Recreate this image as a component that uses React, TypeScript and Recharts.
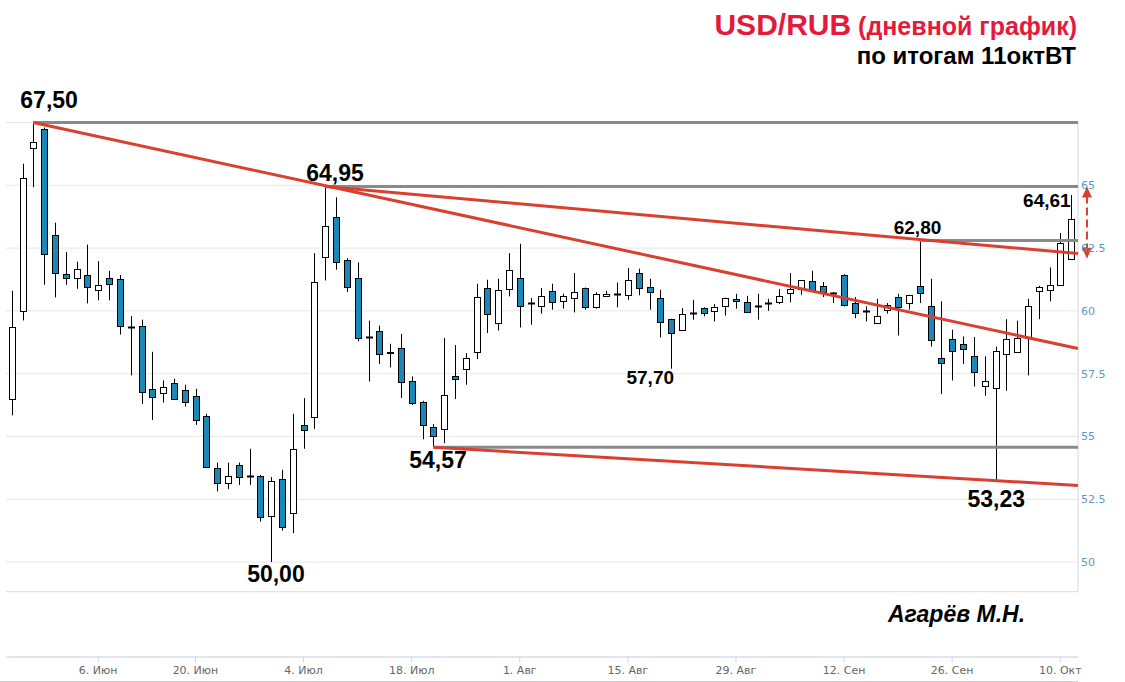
import React from 'react';
import { ComposedChart, Bar, XAxis, YAxis, CartesianGrid, ReferenceLine, ReferenceDot } from 'recharts';

// Trading days (MOEX, 2022), 25 May – 11 Oct
const dates = [
  '25.05','26.05','27.05','30.05','31.05',
  '01.06','02.06','03.06','06.06','07.06','08.06','09.06','10.06','14.06','15.06','16.06','17.06',
  '20.06','21.06','22.06','23.06','24.06','27.06','28.06','29.06','30.06',
  '01.07','04.07','05.07','06.07','07.07','08.07','11.07','12.07','13.07','14.07','15.07',
  '18.07','19.07','20.07','21.07','22.07','25.07','26.07','27.07','28.07','29.07',
  '01.08','02.08','03.08','04.08','05.08','08.08','09.08','10.08','11.08','12.08',
  '15.08','16.08','17.08','18.08','19.08','22.08','23.08','24.08','25.08','26.08',
  '29.08','30.08','31.08','01.09','02.09','05.09','06.09','07.09','08.09','09.09',
  '12.09','13.09','14.09','15.09','16.09','19.09','20.09','21.09','22.09','23.09',
  '26.09','27.09','28.09','29.09','30.09','03.10','04.10','05.10','06.10','07.10',
  '10.10','11.10',
];

const open = [
  56.49, 60.00, 66.49, 67.24, 63.02, 61.48, 61.31, 61.43, 60.82, 61.31,
  61.27, 59.35, 59.39, 56.88, 56.72, 57.12, 56.86, 56.62, 55.82, 53.74,
  53.14, 53.86, 53.41, 53.41, 51.85, 53.30, 51.97, 55.45, 55.76, 62.14,
  63.72, 62.04, 61.31, 58.95, 59.21, 58.38, 58.52, 57.20, 56.37, 55.37,
  55.29, 57.40, 57.68, 58.36, 60.91, 59.51, 60.87, 61.31, 60.32, 60.18,
  60.78, 60.38, 60.51, 60.91, 60.14, 60.58, 60.67, 60.62, 61.51, 60.95,
  60.51, 59.67, 59.25, 59.92, 60.11, 59.98, 60.18, 60.48, 60.35, 60.21,
  60.32, 60.34, 60.71, 60.87, 61.17, 61.01, 60.72, 61.44, 60.31, 59.99,
  59.51, 60.05, 60.55, 60.31, 61.01, 60.20, 58.12, 58.88, 58.68, 58.19,
  56.99, 56.92, 58.28, 58.36, 58.94, 60.78, 60.84, 61.04, 62.06,
];
const high = [
  60.80, 65.86, 67.50, 67.30, 63.51, 62.34, 61.96, 62.64, 61.98, 61.59,
  61.43, 59.79, 59.65, 58.37, 57.23, 57.30, 57.06, 56.90, 55.90, 53.96,
  53.96, 53.96, 54.51, 53.47, 53.38, 53.67, 55.90, 56.53, 62.30, 64.95,
  64.52, 62.10, 61.93, 59.61, 59.41, 58.69, 59.08, 57.39, 56.42, 55.50,
  58.92, 58.64, 58.32, 61.08, 61.24, 61.28, 62.30, 62.67, 60.51, 60.91,
  61.08, 60.68, 61.51, 60.93, 60.74, 60.80, 61.13, 61.71, 61.68, 61.28,
  60.84, 59.69, 60.11, 60.44, 60.14, 60.27, 60.53, 60.68, 60.60, 60.68,
  60.48, 60.87, 61.51, 61.23, 61.60, 61.15, 60.74, 61.46, 60.55, 60.18,
  60.48, 60.31, 60.68, 60.64, 62.80, 61.28, 60.38, 59.25, 58.98, 58.96,
  58.19, 58.58, 59.67, 59.61, 60.48, 61.00, 61.73, 63.10, 64.61,
];
const low = [
  55.84, 59.62, 64.92, 61.04, 60.54, 61.04, 60.88, 60.30, 60.42, 60.42,
  59.06, 57.43, 56.29, 55.66, 56.35, 56.45, 56.19, 55.46, 53.75, 52.81,
  52.90, 53.07, 53.07, 51.61, 50.00, 51.25, 51.15, 54.51, 55.30, 61.21,
  61.64, 60.75, 58.78, 57.19, 57.89, 57.75, 56.53, 56.25, 54.89, 54.57,
  54.73, 56.49, 57.06, 58.08, 59.12, 59.22, 60.58, 59.34, 59.45, 59.89,
  60.05, 60.09, 59.94, 60.05, 60.09, 60.56, 60.14, 60.44, 60.62, 60.05,
  58.94, 57.70, 59.22, 59.65, 59.78, 59.58, 59.81, 60.09, 59.92, 59.65,
  60.00, 60.27, 60.34, 60.64, 60.78, 60.55, 60.31, 60.18, 59.71, 59.58,
  59.50, 59.89, 59.02, 60.05, 60.31, 58.58, 56.69, 57.23, 57.89, 56.99,
  56.62, 53.23, 56.82, 58.34, 57.43, 59.67, 60.38, 61.02, 62.04,
];
const close = [
  59.35, 65.29, 66.73, 62.26, 61.51, 61.31, 61.67, 60.95, 61.03, 61.07,
  59.38, 59.33, 56.79, 56.59, 56.98, 56.49, 56.39, 55.64, 53.78, 53.14,
  53.44, 53.38, 53.40, 51.79, 53.21, 51.41, 54.49, 55.24, 61.15, 63.39,
  61.94, 60.95, 58.92, 58.93, 58.28, 58.31, 57.16, 56.33, 55.46, 55.00,
  56.65, 57.30, 58.12, 60.55, 59.89, 60.83, 61.63, 60.18, 60.30, 60.58,
  60.35, 60.58, 60.75, 60.14, 60.67, 60.67, 60.65, 61.24, 60.91, 60.75,
  59.55, 59.12, 59.87, 59.90, 59.91, 60.15, 60.51, 60.39, 59.94, 60.19,
  60.30, 60.58, 60.87, 61.21, 60.84, 60.75, 60.70, 60.22, 59.91, 59.97,
  59.81, 60.24, 60.15, 60.62, 60.71, 58.85, 57.92, 58.41, 58.48, 57.56,
  57.19, 58.42, 58.88, 58.94, 60.20, 60.94, 61.04, 62.70, 63.66,
];

const tickDates = ['06.06','20.06','04.07','18.07','01.08','15.08','29.08','12.09','26.09','10.10'];
const tickLabels = ['6. Июн','20. Июн','4. Июл','18. Июл','1. Авг','15. Авг','29. Авг','12. Сен','26. Сен','10. Окт'];
const yTicks = [50, 52.5, 55, 57.5, 60, 62.5, 65, 67.5];

// Levels and trend lines
const grayLevels = [
  { from: '27.05', value: 67.5 },
  { from: '06.07', value: 64.95 },
  { from: '21.09', value: 62.8 },
  { from: '20.07', value: 54.57 },
];
const redLines = [
  { from: '27.05', v1: 67.5, v2: 58.5 },
  { from: '06.07', v1: 64.95, v2: 62.28 },
  { from: '20.07', v1: 54.57, v2: 53.05 },
];
const annotations = [
  { date: '27.05', value: 67.5, text: '67,50', size: 23, dx: -13, dy: -15 },
  { date: '06.07', value: 64.95, text: '64,95', size: 23, dx: -19, dy: -6 },
  { date: '29.06', value: 50.0, text: '50,00', size: 23, dx: -24, dy: 20 },
  { date: '20.07', value: 54.57, text: '54,57', size: 23, dx: -24, dy: 21 },
  { date: '17.08', value: 57.7, text: '57,70', size: 19, dx: -23, dy: 15 },
  { date: '21.09', value: 62.8, text: '62,80', size: 19, dx: -26, dy: -7 },
  { date: '30.09', value: 53.23, text: '53,23', size: 23, dx: -28, dy: 26 },
  { date: '11.10', value: 64.61, text: '64,61', size: 19, dx: -48, dy: 12 },
];

const X_MIN = -0.527;
const X_MAX = 98.64;
const Y_MIN = 46.22;
const Y_MAX = 67.5;
const PANE_BOTTOM = 48.82;

const BLUE = '#1a87b8';
const RED = '#d9402f';
const GRAY = '#8a8a8a';
const FONT = '"Liberation Sans", Arial, sans-serif';

const idx = (d: string) => dates.indexOf(d);

const rows = dates.map((d, i) => ({
  i,
  date: d,
  open: open[i],
  high: high[i],
  low: low[i],
  close: close[i],
  range: [low[i], high[i]],
}));

const Candle = (props: any) => {
  const { x, y, width, height, payload } = props;
  if (payload == null || height == null) return null;
  const { open: o, close: c, high: h, low: l } = payload;
  const k = h - l === 0 ? 0 : height / (h - l);
  const py = (v: number) => y + (h - v) * k;
  const cx = Math.round(x + width / 2) + 0.5;
  const top = py(Math.max(o, c));
  const bot = py(Math.min(o, c));
  const up = c >= o;
  const bodyH = bot - top;
  return (
    <g>
      <line x1={cx} x2={cx} y1={y} y2={y + height} stroke="#000" strokeWidth={1} />
      {bodyH < 1.5 ? (
        <line x1={cx - 3.5} x2={cx + 3.5} y1={Math.round(top) + 0.5} y2={Math.round(top) + 0.5} stroke="#000" strokeWidth={2} />
      ) : (
        <rect
          x={cx - 3}
          y={Math.round(top) + 0.5}
          width={6}
          height={Math.max(1, Math.round(bot) - Math.round(top))}
          fill={up ? '#ffffff' : BLUE}
          stroke="#000"
          strokeWidth={1}
        />
      )}
    </g>
  );
};

const YTick = (props: any) => {
  const { x, y, payload } = props;
  if (payload.value > 65) return null;
  return (
    <text x={x + 3} y={y} dy={4} textAnchor="start" fontSize={11} fontFamily='"DejaVu Sans", Verdana, sans-serif' fill="#5b9ac6">
      {String(payload.value)}
    </text>
  );
};

const ArrowShape = (props: any) => {
  const { x1, y1, x2, y2 } = props;
  const x = x1;
  const top = Math.min(y1, y2);
  const bot = Math.max(y1, y2);
  return (
    <g>
      <line x1={x} x2={x} y1={top + 9} y2={bot - 9} stroke={RED} strokeWidth={2} strokeDasharray="8 4" />
      <polygon points={`${x},${top} ${x - 5},${top + 11} ${x + 5},${top + 11}`} fill={RED} />
      <polygon points={`${x},${bot} ${x - 5},${bot - 11} ${x + 5},${bot - 11}`} fill={RED} />
    </g>
  );
};

export default function App() {
  return (
    <div style={{ position: 'absolute', left: 0, top: 0, width: 1125, height: 682, background: '#fff' }}>
      <ComposedChart
        width={1125}
        height={682}
        data={rows}
        margin={{ top: 122.5, right: 0, bottom: 0, left: 6 }}
      >
        <CartesianGrid horizontal vertical={false} stroke="#e6e6e6" />
        <XAxis
          dataKey="i"
          type="number"
          domain={[X_MIN, X_MAX]}
          allowDataOverflow
          ticks={tickDates.map(idx)}
          tickFormatter={(v: number) => tickLabels[tickDates.indexOf(dates[v])] ?? ''}
          height={25}
          axisLine={{ stroke: '#ccd6eb' }}
          tickLine={{ stroke: '#ccd6eb' }}
          tickSize={6}
          tickMargin={3}
          tick={{ fontSize: 11, fill: '#666666', fontFamily: '"DejaVu Sans", Verdana, sans-serif' }}
          interval={0}
        />
        <YAxis
          orientation="right"
          type="number"
          domain={[Y_MIN, Y_MAX]}
          allowDataOverflow
          ticks={yTicks}
          width={47}
          axisLine={false}
          tickLine={false}
          tickSize={0}
          tickMargin={0}
          tick={<YTick />}
          interval={0}
        />
        <ReferenceLine y={PANE_BOTTOM} stroke="#dddddd" strokeWidth={1} />
        <ReferenceLine
          segment={[{ x: X_MAX, y: PANE_BOTTOM }, { x: X_MAX, y: Y_MAX }]}
          stroke="#d8d8d8"
          strokeWidth={1}
          ifOverflow="visible"
        />
        <Bar dataKey="range" barSize={7} isAnimationActive={false} shape={(p: any) => <Candle {...p} />} />
        {grayLevels.map((g, k) => (
          <ReferenceLine
            key={'g' + k}
            segment={[{ x: idx(g.from), y: g.value }, { x: X_MAX, y: g.value }]}
            stroke={GRAY}
            strokeWidth={3}
            ifOverflow="visible"
          />
        ))}
        {redLines.map((r, k) => (
          <ReferenceLine
            key={'r' + k}
            segment={[{ x: idx(r.from), y: r.v1 }, { x: X_MAX, y: r.v2 }]}
            stroke={RED}
            strokeWidth={3}
            ifOverflow="visible"
          />
        ))}
        <ReferenceLine
          segment={[{ x: 99.47, y: 64.95 }, { x: 99.47, y: 62.08 }]}
          ifOverflow="visible"
          stroke={RED}
          shape={(p: any) => <ArrowShape {...p} />}
        />
        {annotations.map((a, k) => (
          <ReferenceDot
            key={'a' + k}
            x={idx(a.date)}
            y={a.value}
            r={1}
            ifOverflow="visible"
            shape={(p: any) => (
              <text
                x={p.cx + a.dx}
                y={p.cy + a.dy}
                fontSize={a.size}
                fontWeight="bold"
                fontFamily={FONT}
                fill="#000"
              >
                {a.text}
              </text>
            )}
          />
        ))}
      </ComposedChart>
      <svg width={1125} height={682} style={{ position: 'absolute', left: 0, top: 0, pointerEvents: 'none' }}>
        <text x={1077} y={35} textAnchor="end" fontFamily={FONT} fontWeight="bold" fill="#e5193c">
          <tspan fontSize={30}>USD/RUB</tspan>
          <tspan fontSize={25}> (дневной график)</tspan>
        </text>
        <text x={1076} y={64} textAnchor="end" fontFamily={FONT} fontWeight="bold" fontSize={24} fill="#000">
          по итогам 11октВТ
        </text>
        <text x={888} y={622} fontFamily={FONT} fontWeight="bold" fontStyle="italic" fontSize={23} fill="#000">
          Агарёв М.Н.
        </text>
        <line x1={0} x2={1078} y1={681.5} y2={681.5} stroke="#d0d0d0" strokeWidth={1} />
      </svg>
    </div>
  );
}
